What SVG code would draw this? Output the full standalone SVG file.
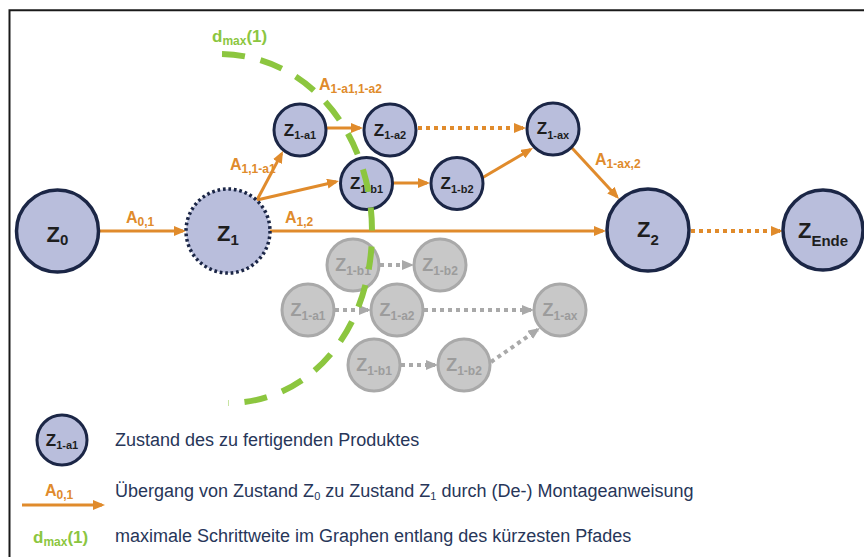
<svg xmlns="http://www.w3.org/2000/svg" width="864" height="557" viewBox="0 0 864 557">
<style>
.nd{fill:#b9bedc;stroke:#1b2646;stroke-width:3}
.big{stroke-width:3.5}
.dot{stroke-dasharray:2.7 2.8}
.gn{fill:#c8c8c8;stroke:#a9a9a9;stroke-width:3}
.zt{font-family:"Liberation Sans",Arial,sans-serif;font-weight:bold;fill:#1e1e1e;text-anchor:middle}
.gt{font-family:"Liberation Sans",Arial,sans-serif;font-weight:bold;fill:#9c9c9c;text-anchor:middle}
.or{stroke:#e08b2c;stroke-width:3;fill:none}
.ord{stroke:#e08b2c;stroke-width:4;fill:none;stroke-dasharray:4 4}
.gr{stroke:#a9a9a9;stroke-width:4;fill:none;stroke-dasharray:4 4}
.al{font-family:"Liberation Sans",Arial,sans-serif;font-weight:bold;fill:#e08b2c;font-size:16px}
.gl{font-family:"Liberation Sans",Arial,sans-serif;font-weight:bold;fill:#8cc63f;font-size:17px}
.lt{font-family:"Liberation Sans",Arial,sans-serif;fill:#273659;font-size:18px}
</style>
<defs>
<marker id="ao" markerUnits="userSpaceOnUse" markerWidth="12" markerHeight="10" refX="9" refY="5" orient="auto"><path d="M0,0 L12,5 L0,10 z" fill="#e08b2c"/></marker>
<marker id="ag" markerUnits="userSpaceOnUse" markerWidth="12" markerHeight="10" refX="9" refY="5" orient="auto"><path d="M0,0 L12,5 L0,10 z" fill="#a9a9a9"/></marker>
</defs>
<rect width="864" height="557" fill="#fff"/>
<path d="M9.5,560 V10.3 H870" fill="none" stroke="#1a1a1a" stroke-width="2"/>

<!-- gray connectors -->
<g id="gray-connectors">
<line class="gr" x1="380" y1="265" x2="411" y2="265" marker-end="url(#ag)"/>
<line class="gr" x1="335" y1="310" x2="368" y2="310" marker-end="url(#ag)"/>
<line class="gr" x1="424" y1="310" x2="531" y2="310" marker-end="url(#ag)"/>
<line class="gr" x1="401" y1="365" x2="435" y2="365" marker-end="url(#ag)"/>
<line class="gr" x1="491" y1="362" x2="537.5" y2="329.7" marker-end="url(#ag)"/>
</g>

<!-- gray nodes -->
<g id="g-z1b1-top"><circle class="gn" cx="353" cy="265" r="26"/><text class="gt" x="353" y="271" font-size="18">Z<tspan font-size="12" dy="4">1-b1</tspan></text></g>
<g id="g-z1b2-top"><circle class="gn" cx="440" cy="265" r="26"/><text class="gt" x="440" y="271" font-size="18">Z<tspan font-size="12" dy="4">1-b2</tspan></text></g>
<g id="g-z1a1"><circle class="gn" cx="308" cy="310" r="26"/><text class="gt" x="308" y="316" font-size="18">Z<tspan font-size="12" dy="4">1-a1</tspan></text></g>
<g id="g-z1a2"><circle class="gn" cx="397" cy="310" r="26"/><text class="gt" x="397" y="316" font-size="18">Z<tspan font-size="12" dy="4">1-a2</tspan></text></g>
<g id="g-z1ax"><circle class="gn" cx="560" cy="310" r="26"/><text class="gt" x="560" y="316" font-size="18">Z<tspan font-size="12" dy="4">1-ax</tspan></text></g>
<g id="g-z1b1"><circle class="gn" cx="374" cy="365" r="26"/><text class="gt" x="374" y="371" font-size="18">Z<tspan font-size="12" dy="4">1-b1</tspan></text></g>
<g id="g-z1b2"><circle class="gn" cx="464" cy="365" r="26"/><text class="gt" x="464" y="371" font-size="18">Z<tspan font-size="12" dy="4">1-b2</tspan></text></g>

<!-- connectors -->
<g id="connectors">
<text class="al" x="126" y="223">A<tspan font-size="12" dy="3">0,1</tspan></text>
<text class="al" x="230" y="170">A<tspan font-size="12" dy="3">1,1-a1</tspan></text>
<text class="al" x="319" y="90">A<tspan font-size="12" dy="3">1-a1,1-a2</tspan></text>
<text class="al" x="285" y="223">A<tspan font-size="12" dy="3">1,2</tspan></text>
<text class="al" x="595" y="165">A<tspan font-size="12" dy="3">1-ax,2</tspan></text>
<line class="or" x1="99" y1="231" x2="183" y2="231" marker-end="url(#ao)"/>
<line class="or" x1="257" y1="200" x2="281.6" y2="153.6" marker-end="url(#ao)"/>
<line class="or" x1="257" y1="200" x2="336.1" y2="181.7" marker-end="url(#ao)"/>
<line class="or" x1="270" y1="231" x2="603" y2="231" marker-end="url(#ao)"/>
<line class="or" x1="326" y1="128" x2="360" y2="128" marker-end="url(#ao)"/>
<line class="ord" x1="418" y1="128" x2="523" y2="128" marker-end="url(#ao)"/>
<line class="or" x1="393" y1="183" x2="427" y2="183" marker-end="url(#ao)"/>
<line class="or" x1="482" y1="178" x2="530.4" y2="149.5" marker-end="url(#ao)"/>
<line class="or" x1="572" y1="148" x2="617" y2="196.8" marker-end="url(#ao)"/>
<line class="ord" x1="691" y1="231" x2="780" y2="231" marker-end="url(#ao)"/>
</g>

<!-- nodes -->
<g id="z0"><circle class="nd big" cx="57.5" cy="231" r="41"/><text class="zt" x="57.5" y="242" font-size="22">Z<tspan font-size="15" dy="3">0</tspan></text></g>
<g id="z1"><circle class="nd big dot" cx="228" cy="231" r="42"/><text class="zt" x="228" y="241" font-size="22">Z<tspan font-size="15" dy="4">1</tspan></text></g>
<g id="z1a1"><circle class="nd" cx="300" cy="130" r="26"/><text class="zt" x="300" y="136" font-size="17">Z<tspan font-size="11" dy="3">1-a1</tspan></text></g>
<g id="z1a2"><circle class="nd" cx="390" cy="130" r="26"/><text class="zt" x="390" y="136" font-size="17">Z<tspan font-size="11" dy="3">1-a2</tspan></text></g>
<g id="z1ax"><circle class="nd" cx="553" cy="129" r="26"/><text class="zt" x="553" y="134" font-size="17">Z<tspan font-size="11" dy="5">1-ax</tspan></text></g>
<g id="z1b1"><circle class="nd" cx="366.5" cy="183.5" r="26"/><text class="zt" x="366.5" y="189" font-size="17">Z<tspan font-size="11" dy="4">1-b1</tspan></text></g>
<g id="z1b2"><circle class="nd" cx="457" cy="183.5" r="26"/><text class="zt" x="457" y="189" font-size="17">Z<tspan font-size="11" dy="4">1-b2</tspan></text></g>
<g id="z2"><circle class="nd big" cx="648" cy="230" r="41"/><text class="zt" x="648" y="237" font-size="22">Z<tspan font-size="15" dy="8">2</tspan></text></g>
<g id="zende"><circle class="nd big" cx="823" cy="230" r="40"/><text class="zt" x="823" y="238" font-size="22">Z<tspan font-size="15" dy="8">Ende</tspan></text></g>

<!-- dmax arc -->
<g id="dmax">
<path d="M222,54 C310,56 372,135 372,231 C372,330 310,403 228,403" fill="none" stroke="#8cc63f" stroke-width="6" stroke-dasharray="23 16"/>
<text class="gl" x="212" y="42">d<tspan font-size="12" dy="3">max</tspan><tspan dy="-3">(1)</tspan></text>
</g>

<!-- legend -->
<g id="legend">
<g id="legend-node"><circle class="nd" cx="62" cy="440" r="25"/><text class="zt" x="62" y="446" font-size="17">Z<tspan font-size="11" dy="3">1-a1</tspan></text></g>
<text class="lt" x="115" y="446">Zustand des zu fertigenden Produktes</text>
<text class="al" x="45" y="496">A<tspan font-size="12" dy="3">0,1</tspan></text>
<line class="or" x1="22" y1="505" x2="102" y2="505" marker-end="url(#ao)"/>
<text class="lt" x="115" y="497">Übergang von Zustand Z<tspan font-size="11" dy="3">0</tspan><tspan dy="-3"> zu Zustand Z</tspan><tspan font-size="11" dy="3">1</tspan><tspan dy="-3"> durch (De-) Montageanweisung</tspan></text>
<text class="gl" x="33" y="543">d<tspan font-size="12" dy="3">max</tspan><tspan dy="-3">(1)</tspan></text>
<text class="lt" x="115" y="542">maximale Schrittweite im Graphen entlang des kürzesten Pfades</text>
</g>
</svg>
